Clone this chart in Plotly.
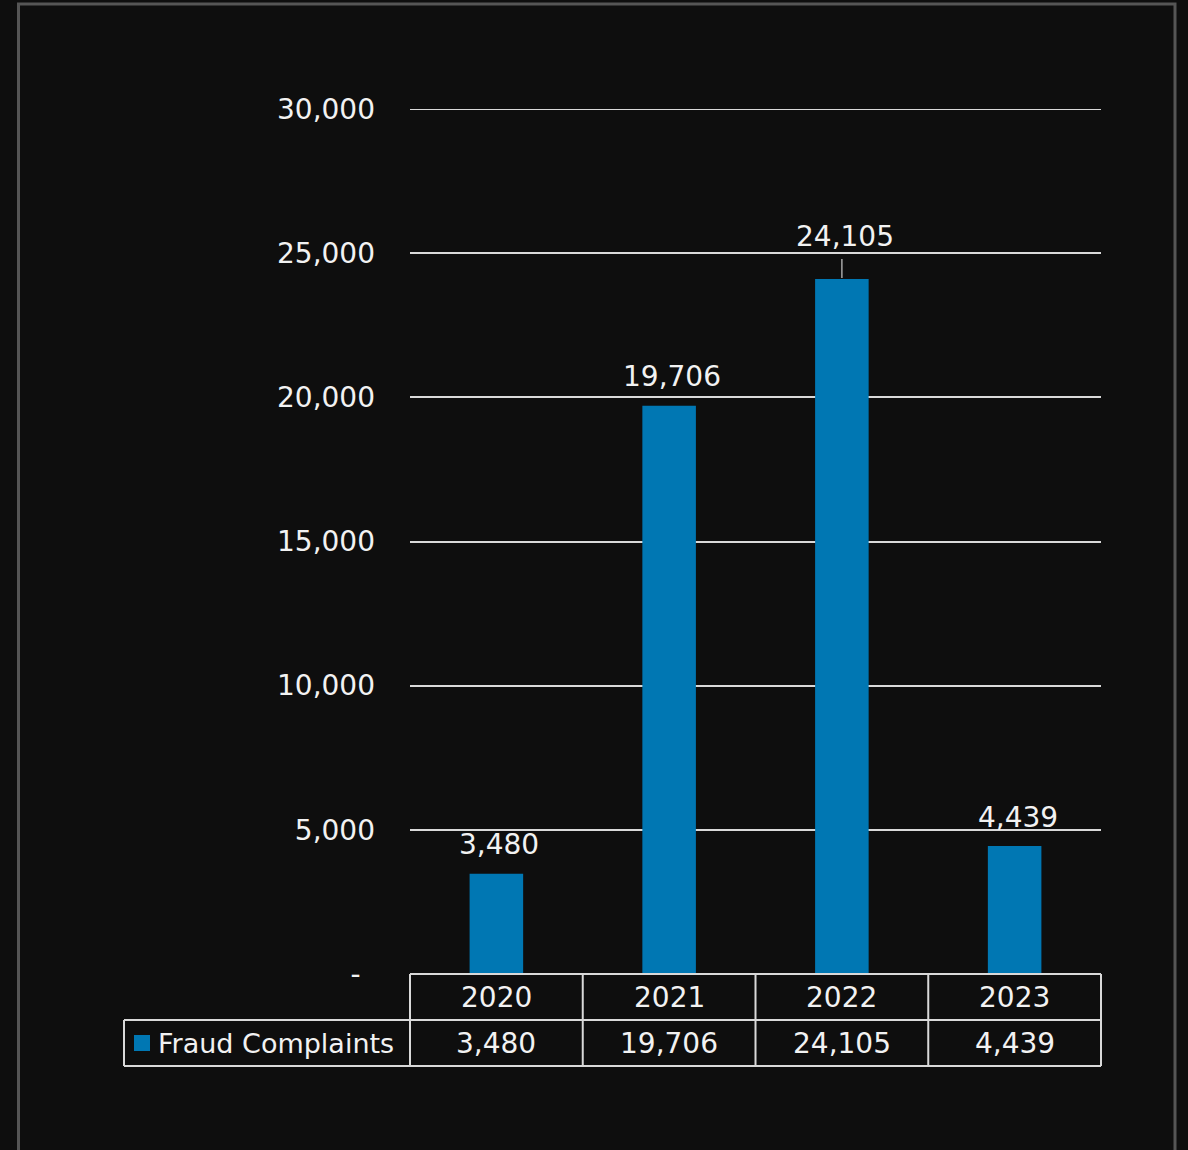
import plotly.graph_objects as go

categories = ["2020", "2021", "2022", "2023"]
values = [3480, 19706, 24105, 4439]
series_name = "Fraud Complaints"
tick_vals = [0, 5000, 10000, 15000, 20000, 25000, 30000]
tick_text = ["-\u00a0\u2009", "5,000", "10,000", "15,000", "20,000", "25,000", "30,000"]

W, H = 1188, 1150
BG = "#0e0e0e"
BAR = "#0077b3"
TXT = "#f2f2f2"
LINE = "#d9d9d9"
FONT = "DejaVu Sans"
FS = 28

# plot area in pixels
PX0, PX1 = 410, 1101
PY_TOP, PY_BOT = 109, 974

def xp(px):
    return px / W

def yp(py):
    return (H - py) / H

fig = go.Figure()
fig.add_trace(go.Bar(
    x=categories, y=values, marker=dict(color=BAR, line=dict(width=0)),
    name=series_name, showlegend=False, hoverinfo="skip",
))

fig.update_layout(
    template="none",
    width=W, height=H, autosize=False,
    margin=dict(l=0, r=0, t=0, b=0, pad=0),
    paper_bgcolor=BG, plot_bgcolor=BG,
    bargap=0.69,
    font=dict(family=FONT, size=FS, color=TXT),
    xaxis=dict(type="category", domain=[xp(PX0), xp(PX1)], showticklabels=False,
               showgrid=False, zeroline=False, showline=False, ticks="",
               range=[-0.5, 3.5], automargin=False),
    yaxis=dict(domain=[yp(PY_BOT), yp(PY_TOP)], range=[0, 30000],
               tickvals=tick_vals, ticktext=tick_text, showgrid=True,
               gridcolor=LINE, gridwidth=2, zeroline=False, showline=False,
               ticks="", ticklabelstandoff=34, automargin=False,
               tickfont=dict(family=FONT, size=FS, color=TXT)),
)

annotations = []
shapes = []

# top gridline (plotly drops the grid line at the range end)
shapes.append(dict(type="line", xref="paper", yref="y", x0=xp(PX0), x1=xp(PX1),
                   y0=tick_vals[-1], y1=tick_vals[-1], line=dict(color=LINE, width=2),
                   layer="below"))

# data labels
for i, (c, v) in enumerate(zip(categories, values)):
    shift = 42 if v == max(values) else 29
    annotations.append(dict(x=i, y=v, xref="x", yref="y", text=f"{v:,}",
                            showarrow=False, xanchor="center", yanchor="middle",
                            xshift=3, yshift=shift,
                            font=dict(family=FONT, size=FS, color=TXT)))
    if v == max(values):
        shapes.append(dict(type="line", xref="x", yref="y", x0=i, x1=i,
                           ysizemode="pixel", yanchor=v, y0=1, y1=20,
                           line=dict(color="#a6a6a6", width=1.5)))

# data table
n = len(categories)
row_h = 46
r0, r1, r2 = PY_BOT, PY_BOT + row_h, PY_BOT + 2 * row_h
col_w = (PX1 - PX0) / n
lw = dict(color=LINE, width=2)
shapes.append(dict(type="line", xref="paper", yref="paper", x0=xp(PX0), x1=xp(PX1), y0=yp(r0), y1=yp(r0), line=lw))
shapes.append(dict(type="line", xref="paper", yref="paper", x0=xp(124), x1=xp(PX1), y0=yp(r1), y1=yp(r1), line=lw))
shapes.append(dict(type="line", xref="paper", yref="paper", x0=xp(124), x1=xp(PX1), y0=yp(r2), y1=yp(r2), line=lw))
for k in range(n + 1):
    xx = PX0 + k * col_w
    shapes.append(dict(type="line", xref="paper", yref="paper", x0=xp(xx), x1=xp(xx), y0=yp(r0), y1=yp(r2), line=lw))
shapes.append(dict(type="line", xref="paper", yref="paper", x0=xp(124), x1=xp(124), y0=yp(r1), y1=yp(r2), line=lw))

for k, (c, v) in enumerate(zip(categories, values)):
    cx = PX0 + (k + 0.5) * col_w
    annotations.append(dict(x=xp(cx), y=yp((r0 + r1) / 2), xref="paper", yref="paper",
                            text=c, showarrow=False, xanchor="center", yanchor="middle",
                            font=dict(family=FONT, size=FS, color=TXT)))
    annotations.append(dict(x=xp(cx), y=yp((r1 + r2) / 2), xref="paper", yref="paper",
                            text=f"{v:,}", showarrow=False, xanchor="center", yanchor="middle",
                            font=dict(family=FONT, size=FS, color=TXT)))

# legend key
shapes.append(dict(type="rect", xref="paper", yref="paper", x0=xp(134), x1=xp(150),
                   y0=yp(1051), y1=yp(1035), fillcolor=BAR, line=dict(width=0)))
annotations.append(dict(x=xp(156), y=yp((r1 + r2) / 2), xref="paper", yref="paper",
                        text=series_name, showarrow=False, xanchor="left", yanchor="middle",
                        font=dict(family=FONT, size=27, color=TXT)))

# outer frame
shapes.append(dict(type="rect", xref="paper", yref="paper", x0=xp(18.5), x1=xp(1175),
                   y0=-0.02, y1=yp(4), line=dict(color="#555555", width=3),
                   fillcolor="rgba(0,0,0,0)", layer="below"))

fig.update_layout(annotations=annotations, shapes=shapes)
fig.write_html("out.html")
